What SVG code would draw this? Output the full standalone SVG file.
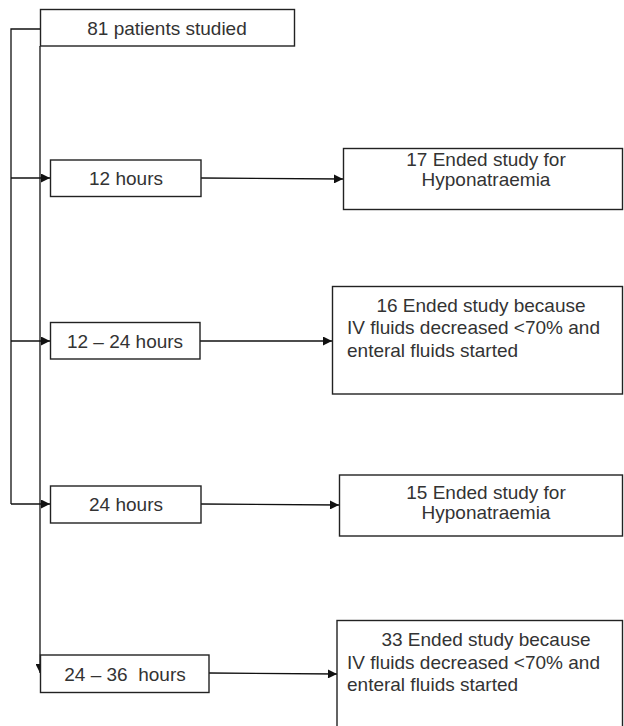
<svg xmlns="http://www.w3.org/2000/svg" width="624" height="726" viewBox="0 0 624 726">
<style>
.box{fill:#fff;stroke:#222;stroke-width:1.4}
.ln{fill:none;stroke:#111;stroke-width:1.3}
text{font-family:"Liberation Sans",Arial,sans-serif;font-size:19px;fill:#333}
.c{text-anchor:middle}
</style>
<defs>
<marker id="ah" viewBox="0 0 10 10" refX="10" refY="5" markerWidth="10" markerHeight="9" markerUnits="userSpaceOnUse" orient="auto">
<path d="M0,0 L10,5 L0,10 z" fill="#111"/>
</marker>
</defs>
<g id="connectors">
<polyline class="ln" points="40,29 11,29 11,504"/>
<line class="ln" x1="40" y1="46" x2="40" y2="673" marker-end="url(#ah)"/>
<line class="ln" x1="11" y1="178" x2="50" y2="178" marker-end="url(#ah)"/>
<line class="ln" x1="11" y1="341" x2="50" y2="341" marker-end="url(#ah)"/>
<line class="ln" x1="11" y1="504" x2="50" y2="504" marker-end="url(#ah)"/>
<line class="ln" x1="201" y1="178" x2="343" y2="179" marker-end="url(#ah)"/>
<line class="ln" x1="200" y1="341" x2="332" y2="341" marker-end="url(#ah)"/>
<line class="ln" x1="201" y1="504" x2="339" y2="505" marker-end="url(#ah)"/>
<line class="ln" x1="209" y1="673" x2="337" y2="674" marker-end="url(#ah)"/>
</g>
<g id="n81">
<rect class="box" x="40.5" y="9.5" width="254" height="36.5"/>
<text class="c" x="167" y="35">81 patients studied</text>
</g>
<g id="n12h">
<rect class="box" x="50.5" y="160" width="150.5" height="36.5"/>
<text class="c" x="126" y="185">12 hours</text>
</g>
<g id="n17">
<rect class="box" x="343.5" y="148.5" width="279" height="61"/>
<text class="c" x="486" y="166">17 Ended study for</text>
<text class="c" x="486" y="186">Hyponatraemia</text>
</g>
<g id="n1224">
<rect class="box" x="50.5" y="322.5" width="149.5" height="36.5"/>
<text class="c" x="125" y="348">12 – 24 hours</text>
</g>
<g id="n16">
<rect class="box" x="332.5" y="286.5" width="290" height="107.5"/>
<text class="c" x="481" y="312">16 Ended study because</text>
<text x="347" y="334">IV fluids decreased &lt;70% and</text>
<text x="347" y="357">enteral fluids started</text>
</g>
<g id="n24h">
<rect class="box" x="50.5" y="486" width="150.5" height="37"/>
<text class="c" x="126" y="511">24 hours</text>
</g>
<g id="n15">
<rect class="box" x="339.5" y="475" width="283" height="61"/>
<text class="c" x="486" y="499">15 Ended study for</text>
<text class="c" x="486" y="519">Hyponatraemia</text>
</g>
<g id="n2436">
<rect class="box" x="40.5" y="655" width="168.5" height="37.5"/>
<text class="c" x="125" y="681" xml:space="preserve">24 – 36  hours</text>
</g>
<g id="n33">
<rect class="box" x="337" y="620.5" width="285.5" height="110"/>
<text class="c" x="486" y="646">33 Ended study because</text>
<text x="347" y="669">IV fluids decreased &lt;70% and</text>
<text x="347" y="691">enteral fluids started</text>
</g>
</svg>
